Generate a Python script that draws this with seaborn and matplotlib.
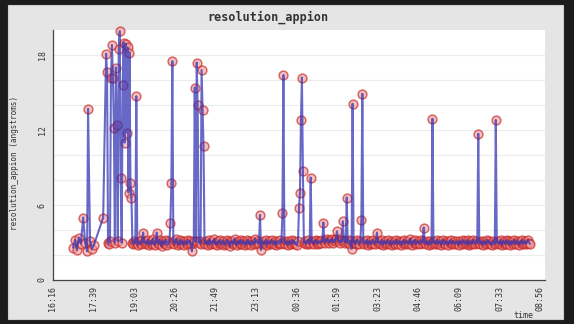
import pandas as pd
import matplotlib
matplotlib.use("Agg")
import matplotlib.pyplot as plt
from matplotlib.ticker import MultipleLocator, FixedLocator, FixedFormatter, AutoMinorLocator
from matplotlib.patches import Rectangle
import seaborn as sns

# Sparse readings at the start of the session (clock time, resolution in angstroms)
early_times = ["16:57", "17:01", "17:05", "17:09", "17:13", "17:18", "17:22",
               "17:26", "17:28", "17:32", "17:36", "17:40", "17:59"]
early_res = [2.6, 3.2, 2.4, 3.4, 2.9, 5.0, 3.0, 2.3, 13.7, 3.1, 2.5, 2.8, 5.0]

# Regular readings every 2 minutes from 18:05 onwards (one row = 40 minutes)
run_start = "18:05"
run_step_min = 2
run_res = [
    18.1, 16.6, 3.0, 2.9, 3.1, 16.2, 18.8, 16.2, 12.2, 3.0, 17.0, 12.4, 3.1, 18.5, 19.9, 8.2, 3.0, 15.6, 19.0, 11.0,
    18.9, 11.8, 18.6, 7.0, 18.2, 7.8, 6.6, 3.0, 2.9, 3.1, 3.0, 14.7, 3.0, 2.8, 3.1, 3.0, 2.9, 3.2, 3.8, 3.0,
    3.1, 2.9, 3.0, 3.2, 2.8, 3.0, 3.1, 2.9, 3.3, 3.0, 2.8, 3.1, 3.8, 3.0, 2.9, 3.2, 3.0, 2.7, 3.1, 3.0,
    2.9, 3.2, 3.0, 2.8, 3.1, 3.0, 4.6, 7.8, 17.5, 3.0, 2.9, 3.1, 3.3, 3.0, 2.8, 3.0, 3.2, 2.9, 3.1, 3.0,
    2.8, 3.1, 3.0, 2.9, 3.2, 3.0, 3.1, 2.9, 2.3, 3.0, 3.1, 15.4, 3.1, 17.4, 14.0, 3.0, 3.1, 2.9, 16.8, 13.6,
    10.7, 3.0, 2.9, 3.1, 3.0, 2.8, 3.2, 3.0, 2.9, 3.1, 3.0, 3.3, 2.9, 3.0, 2.8, 3.1, 3.0, 3.2, 2.9, 3.0,
    3.1, 2.8, 3.0, 2.9, 3.2, 3.0, 3.1, 2.7, 3.0, 3.1, 2.9, 3.0, 3.3, 3.0, 2.8, 3.1, 3.0, 2.9, 3.2, 3.0,
    2.9, 3.1, 3.0, 2.8, 3.0, 3.2, 2.9, 3.1, 3.0, 2.8, 3.1, 3.0, 2.9, 3.3, 3.0, 3.1, 2.9, 3.0, 5.2, 2.4,
    3.0, 3.1, 2.9, 3.0, 3.2, 2.8, 3.0, 3.1, 2.9, 3.0, 3.2, 3.0, 2.9, 3.1, 2.8, 3.0, 3.1, 3.0, 2.9, 3.2,
    3.0, 5.4, 16.4, 3.0, 2.9, 3.1, 3.0, 2.8, 3.1, 3.0, 2.9, 3.2, 3.0, 3.1, 2.9, 3.0, 2.8, 3.1, 5.8, 7.0,
    12.8, 16.2, 8.7, 3.0, 3.1, 2.9, 3.0, 3.2, 2.9, 3.0, 8.2, 3.1, 3.0, 2.9, 3.1, 3.2, 3.0, 2.9, 3.1, 3.0,
    3.1, 3.0, 3.2, 4.6, 3.1, 3.0, 3.2, 3.3, 3.1, 3.0, 3.2, 3.1, 3.3, 3.0, 3.2, 3.1, 3.3, 3.9, 3.2, 3.1,
    3.0, 3.2, 3.1, 4.7, 3.2, 3.0, 3.1, 6.6, 3.0, 3.2, 2.9, 3.1, 2.5, 14.1, 3.0, 3.1, 2.9, 3.0, 3.2, 3.0,
    2.9, 3.1, 4.8, 14.9, 3.0, 2.9, 3.1, 3.0, 3.2, 2.8, 3.0, 3.1, 2.9, 3.0, 3.2, 3.0, 2.9, 3.1, 3.8, 3.0,
    3.1, 2.9, 3.0, 3.2, 2.8, 3.0, 3.1, 2.9, 3.0, 3.2, 3.0, 2.9, 3.1, 2.8, 3.0, 3.1, 3.0, 2.9, 3.2, 3.0,
    2.9, 3.1, 3.0, 2.8, 3.1, 3.0, 3.2, 2.9, 3.0, 3.1, 2.9, 3.0, 3.3, 3.0, 2.8, 3.1, 3.0, 3.2, 2.9, 3.0,
    3.1, 3.0, 2.9, 3.2, 3.0, 3.1, 4.2, 3.0, 2.9, 3.1, 3.0, 2.8, 3.1, 3.0, 2.9, 12.9, 3.0, 3.1, 2.9, 3.0,
    3.2, 2.9, 3.0, 3.1, 2.8, 3.0, 3.2, 3.0, 2.9, 3.1, 3.0, 2.8, 3.1, 3.0, 3.2, 2.9, 3.0, 3.1, 2.9, 3.0,
    3.1, 3.0, 2.8, 3.1, 3.0, 2.9, 3.2, 3.0, 3.1, 2.9, 3.0, 3.2, 2.8, 3.0, 3.1, 2.9, 3.0, 3.2, 3.0, 2.9,
    3.1, 3.0, 11.7, 3.0, 2.9, 3.1, 3.0, 2.8, 3.1, 3.0, 2.9, 3.2, 3.0, 3.1, 2.9, 3.0, 2.8, 3.1, 3.0, 2.9,
    12.8, 3.0, 3.1, 2.9, 3.0, 3.2, 2.8, 3.0, 3.1, 2.9, 3.0, 3.2, 2.9, 3.1, 3.0, 2.8, 3.1, 3.0, 2.9, 3.2,
    3.0, 2.9, 3.1, 3.0, 2.8, 3.1, 3.0, 3.2, 2.9, 3.0, 3.1, 2.9, 3.0, 3.2, 3.0, 2.9,
]

# Time axis: 13 evenly spaced ticks from 16:16 to 08:56 next morning
axis_start = "16:16"
axis_end = "08:56"
tick_labels = ["16:16", "17:39", "19:03", "20:26", "21:49", "23:13", "00:36",
               "01:59", "03:23", "04:46", "06:09", "07:33", "08:56"]
y_ticks = [0, 6, 12, 18]

day = pd.Timestamp("2010-01-01")
t0 = day + pd.Timedelta(axis_start + ":00")
t1 = day + pd.Timedelta(days=1) + pd.Timedelta(axis_end + ":00")

early_dt = [day + pd.Timedelta(t + ":00") for t in early_times]
run_dt = list(pd.date_range(day + pd.Timedelta(run_start + ":00"),
                            periods=len(run_res), freq=f"{run_step_min}min"))
df = pd.DataFrame({"time": early_dt + run_dt,
                   "resolution_appion": early_res + run_res})

sns.set_style("white")
plt.rcParams["font.family"] = ["DejaVu Sans Mono", "DejaVu Sans"]

W, H = 574, 324
fig = plt.figure(figsize=(W / 100, H / 100), dpi=100)
fig.patch.set_facecolor("#1c1c1c")
fig.patches.append(Rectangle((8 / W, 5 / H), (563 - 8) / W, (319 - 5) / H,
                             transform=fig.transFigure, facecolor="#e5e5e5",
                             edgecolor="#cfcfcf", linewidth=0.8, zorder=-5))

L, R, T, B = 53, 545, 30, 280
ax = fig.add_axes([L / W, (H - B) / H, (R - L) / W, (B - T) / H])
ax.set_zorder(2)
ax.set_facecolor("white")

# faint horizontal guides every 2 angstroms
for lvl in range(2, 20, 2):
    ax.axhline(lvl, color="#ececec", lw=0.8, zorder=0)

sns.scatterplot(data=df, x="time", y="resolution_appion", ax=ax, s=40,
                marker="o", facecolor="#eea0a0", edgecolor="#c82424",
                linewidth=1.1, alpha=0.65, zorder=2, clip_on=False, legend=False)
sns.lineplot(data=df, x="time", y="resolution_appion", ax=ax,
             color="#3535b5", lw=1.5, alpha=0.75, zorder=3)

tick_pos = pd.date_range(t0, t1, periods=len(tick_labels))
ax.set_xlim(t0, t1 + pd.Timedelta(minutes=10))
ax.set_ylim(0, 20)
ax.xaxis.set_major_locator(FixedLocator([matplotlib.dates.date2num(p) for p in tick_pos]))
ax.xaxis.set_major_formatter(FixedFormatter(tick_labels))
ax.xaxis.set_minor_locator(AutoMinorLocator(5))
ax.yaxis.set_major_locator(FixedLocator(y_ticks))
ax.yaxis.set_minor_locator(MultipleLocator(1))

ax.tick_params(axis="both", which="major", direction="inout", length=5,
               width=0.8, color="#555555", labelsize=6, labelcolor="#333333")
ax.tick_params(axis="both", which="minor", direction="in", length=2.5,
               width=0.6, color="#777777")
ax.tick_params(axis="x", labelrotation=90, pad=2)
ax.tick_params(axis="y", labelrotation=90, pad=2)
for lab in ax.get_yticklabels():
    lab.set_verticalalignment("center")

for side in ("top", "right"):
    ax.spines[side].set_visible(False)
for side in ("left", "bottom"):
    ax.spines[side].set_color("#444444")
    ax.spines[side].set_linewidth(0.9)

ax.set_ylabel("resolution_appion (angstroms)", fontsize=5.5, color="#333333")
ax.yaxis.label.set_verticalalignment("center")
ax.yaxis.set_label_coords(-(L - 15) / (R - L), 0.47)
ax.set_xlabel("time", fontsize=6, color="#333333")
ax.xaxis.label.set_verticalalignment("center")
ax.xaxis.set_label_coords((523 - L) / (R - L), -(315 - B) / (B - T))

fig.text(268 / W, 1 - 17 / H, "resolution_appion", ha="center", va="center",
         fontsize=8.5, fontweight="bold", color="#333333")

fig.savefig("out.png", dpi=100, facecolor=fig.get_facecolor())
